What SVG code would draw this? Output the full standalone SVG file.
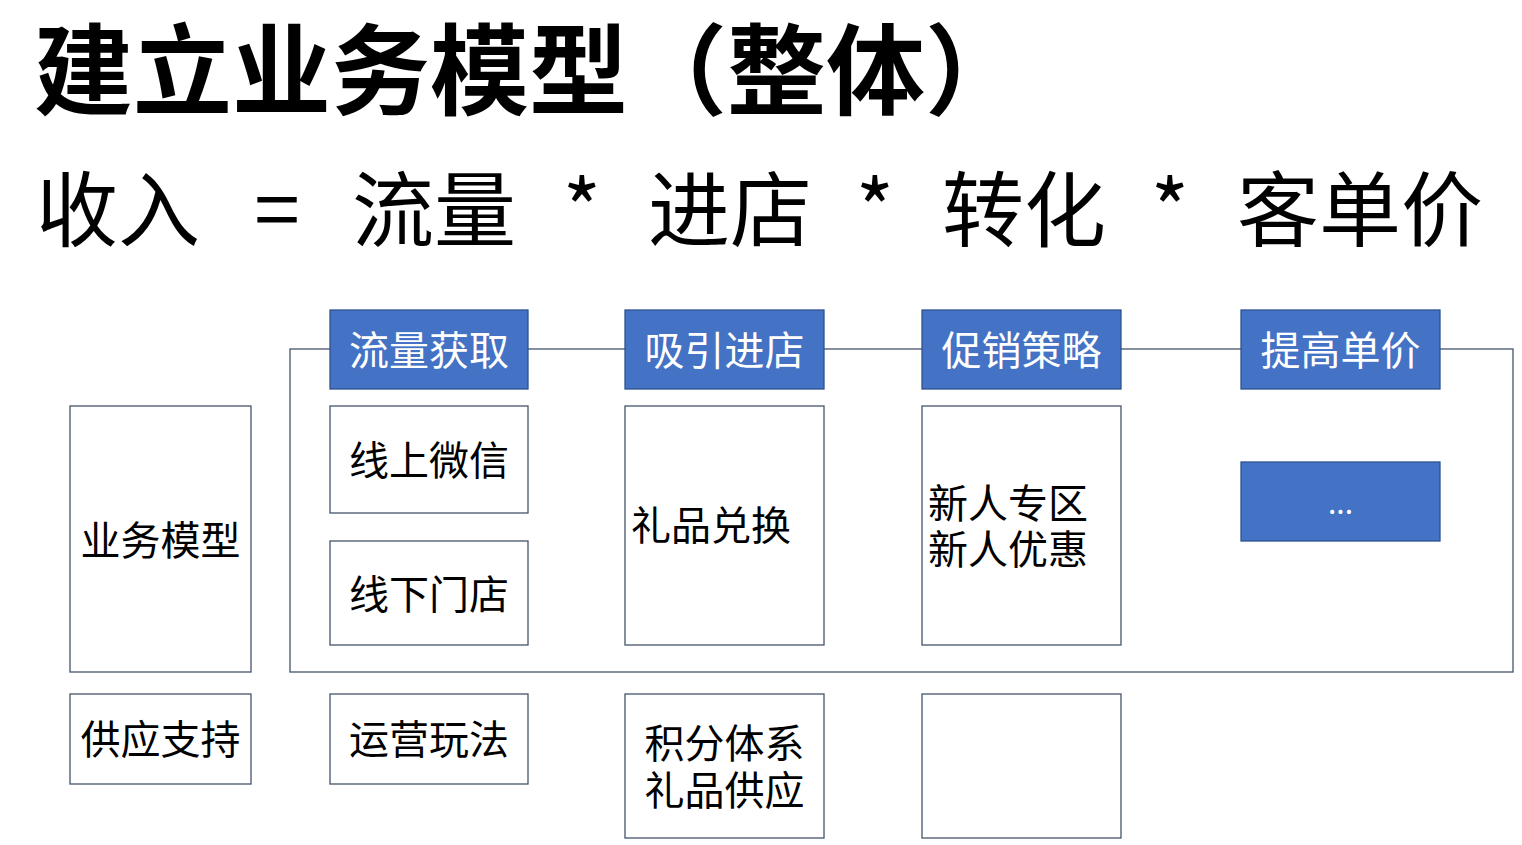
<svg xmlns="http://www.w3.org/2000/svg" width="1522" height="845" viewBox="0 0 1522 845">
<style>
text{font-family:"Noto Sans CJK SC","Noto Sans",sans-serif;fill:#000;dominant-baseline:central}
.title{font-size:99px;font-weight:bold}
.formula{font-size:82px}
.box{fill:#fff;stroke:#44546A;stroke-width:1.3}
.hdr{fill:#4472C4;stroke:#2F528F;stroke-width:1.3}
.t{font-size:40px}
.w{fill:#fff}
.c{text-anchor:middle}
</style>
<rect width="1522" height="845" fill="#fff"/>
<text class="title" x="34" y="64">建立业务模型（整体）</text>
<g id="formula">
<text class="formula" x="36" y="204">收入</text>
<text class="formula c" x="277" y="204">=</text>
<text class="formula" x="352" y="204">流量</text>
<text class="formula c" x="582" y="204">*</text>
<text class="formula" x="648" y="204">进店</text>
<text class="formula c" x="875" y="204">*</text>
<text class="formula" x="942" y="204">转化</text>
<text class="formula c" x="1170" y="204">*</text>
<text class="formula" x="1237" y="204">客单价</text>
</g>
<g id="connectors">
<rect x="290" y="349" width="1223" height="323" fill="none" stroke="#44546A" stroke-width="1.3"/>
</g>
<g id="h1"><rect class="hdr" x="330" y="310" width="198" height="79"/><text class="t w c" x="429" y="348">流量获取</text></g>
<g id="h2"><rect class="hdr" x="625" y="310" width="199" height="79"/><text class="t w c" x="724.5" y="348">吸引进店</text></g>
<g id="h3"><rect class="hdr" x="922" y="310" width="199" height="79"/><text class="t w c" x="1021.5" y="348">促销策略</text></g>
<g id="h4"><rect class="hdr" x="1241" y="310" width="199" height="79"/><text class="t w c" x="1340.5" y="348">提高单价</text></g>
<g id="n-model"><rect class="box" x="70" y="406" width="181" height="266"/><text class="t c" x="160.5" y="538">业务模型</text></g>
<g id="n-supply"><rect class="box" x="70" y="694" width="181" height="90"/><text class="t c" x="160.5" y="737">供应支持</text></g>
<g id="n-online"><rect class="box" x="330" y="406" width="198" height="107"/><text class="t c" x="429" y="458">线上微信</text></g>
<g id="n-offline"><rect class="box" x="330" y="541" width="198" height="104"/><text class="t c" x="429" y="592">线下门店</text></g>
<g id="n-ops"><rect class="box" x="330" y="694" width="198" height="90"/><text class="t c" x="429" y="737">运营玩法</text></g>
<g id="n-gift"><rect class="box" x="625" y="406" width="199" height="239"/><text class="t" x="631" y="523">礼品兑换</text></g>
<g id="n-points"><rect class="box" x="625" y="694" width="199" height="144"/><text class="t c" x="724.5" y="741">积分体系<tspan x="724.5" dy="47">礼品供应</tspan></text></g>
<g id="n-new"><rect class="box" x="922" y="406" width="199" height="239"/><text class="t" x="928" y="501">新人专区<tspan x="928" dy="46">新人优惠</tspan></text></g>
<g id="n-empty"><rect class="box" x="922" y="694" width="199" height="144"/></g>
<g id="n-more"><rect class="hdr" x="1241" y="462" width="199" height="79"/><text class="w c" x="1340.5" y="501" style="font-size:30px">...</text></g>
</svg>
